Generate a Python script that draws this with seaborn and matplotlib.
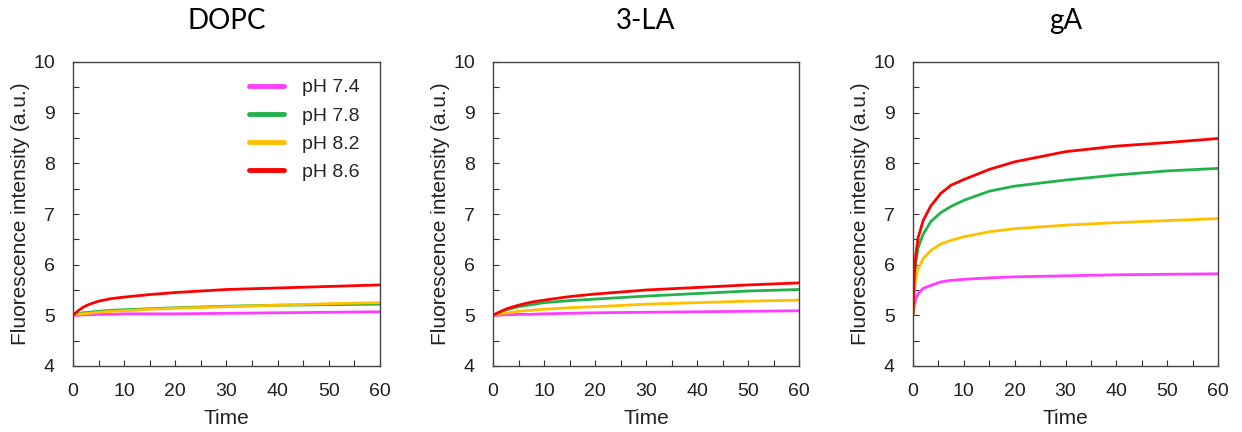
import matplotlib
matplotlib.use("Agg")
import matplotlib.pyplot as plt
import seaborn as sns
import pandas as pd
from matplotlib.ticker import MultipleLocator

sns.set_theme(style="white")
plt.rcParams['font.family'] = ['Liberation Sans', 'DejaVu Sans']

ph_labels = ["pH 7.4", "pH 7.8", "pH 8.2", "pH 8.6"]
colors = ["#FF3CFF", "#22B24C", "#FFC000", "#FF0000"]
panels = ["DOPC", "3-LA", "gA"]

# DOPC
t_dopc = [0, 1, 2, 3, 5, 7.5, 10, 15, 20, 30, 40, 50, 60]
dopc_74 = [5.00, 5.00, 5.01, 5.01, 5.02, 5.02, 5.03, 5.03, 5.03, 5.04, 5.05, 5.06, 5.07]
dopc_78 = [5.00, 5.03, 5.05, 5.06, 5.08, 5.10, 5.11, 5.13, 5.15, 5.18, 5.20, 5.21, 5.22]
dopc_82 = [5.00, 5.02, 5.03, 5.04, 5.06, 5.08, 5.09, 5.12, 5.14, 5.17, 5.20, 5.23, 5.25]
dopc_86 = [5.00, 5.09, 5.16, 5.21, 5.28, 5.33, 5.36, 5.41, 5.45, 5.51, 5.54, 5.57, 5.60]

# 3-LA
t_la = [0, 1, 2, 3, 5, 7.5, 10, 15, 20, 30, 40, 50, 60]
la_74 = [5.00, 5.00, 5.01, 5.01, 5.02, 5.02, 5.03, 5.04, 5.05, 5.06, 5.07, 5.08, 5.09]
la_78 = [5.00, 5.05, 5.09, 5.12, 5.17, 5.21, 5.25, 5.29, 5.32, 5.38, 5.43, 5.48, 5.51]
la_82 = [5.00, 5.02, 5.04, 5.05, 5.08, 5.10, 5.12, 5.15, 5.17, 5.22, 5.25, 5.28, 5.30]
la_86 = [5.00, 5.05, 5.10, 5.14, 5.20, 5.26, 5.30, 5.37, 5.42, 5.50, 5.55, 5.60, 5.64]

# gA
t_ga = [0, 0.25, 0.5, 1, 2, 3.5, 5.5, 7.5, 10, 15, 20, 30, 40, 50, 60]
ga_74 = [5.00, 5.18, 5.31, 5.43, 5.53, 5.59, 5.66, 5.69, 5.71, 5.74, 5.76, 5.78, 5.80, 5.81, 5.82]
ga_78 = [5.00, 5.70, 6.02, 6.33, 6.60, 6.85, 7.03, 7.15, 7.27, 7.45, 7.55, 7.67, 7.77, 7.85, 7.90]
ga_82 = [5.00, 5.48, 5.70, 5.92, 6.12, 6.28, 6.41, 6.48, 6.55, 6.65, 6.71, 6.78, 6.83, 6.87, 6.91]
ga_86 = [5.00, 5.75, 6.15, 6.53, 6.87, 7.16, 7.41, 7.57, 7.68, 7.88, 8.03, 8.23, 8.34, 8.41, 8.49]

series = {
    "DOPC": (t_dopc, [dopc_74, dopc_78, dopc_82, dopc_86]),
    "3-LA": (t_la, [la_74, la_78, la_82, la_86]),
    "gA": (t_ga, [ga_74, ga_78, ga_82, ga_86]),
}

rows = []
for p in panels:
    t, ys = series[p]
    for lab, y in zip(ph_labels, ys):
        for ti, yi in zip(t, y):
            rows.append({"panel": p, "pH": lab, "Time": ti, "F": yi})
df = pd.DataFrame(rows)

fig = plt.figure(figsize=(12.42, 4.32), dpi=100)
lefts = [73, 493, 913]
widths = [307, 306, 305]
for i, p in enumerate(panels):
    ax = fig.add_axes([lefts[i] / 1242, 66 / 432, widths[i] / 1242, 304 / 432])
    sub = df[df.panel == p]
    sns.lineplot(data=sub, x="Time", y="F", hue="pH", hue_order=ph_labels,
                 palette=colors, linewidth=2.0, ax=ax, legend=(i == 0),
                 estimator=None, sort=True)
    ax.set_xlim(0, 60)
    ax.set_ylim(4, 10)
    ax.xaxis.set_major_locator(MultipleLocator(10))
    ax.xaxis.set_minor_locator(MultipleLocator(5))
    ax.yaxis.set_major_locator(MultipleLocator(1))
    ax.yaxis.set_minor_locator(MultipleLocator(0.5))
    ax.tick_params(which="both", direction="in", length=4, width=0.8,
                   colors="#333333", labelcolor="#222222", labelsize=14,
                   left=True, bottom=True, top=False, right=False)
    ax.tick_params(axis="x", which="both", pad=12)
    ax.tick_params(axis="y", which="both", pad=13)
    for s in ax.spines.values():
        s.set_color("#444444")
        s.set_linewidth(1.0)
    ax.set_xlabel("Time", fontsize=15, color="#222222", labelpad=7)
    ax.set_ylabel("Fluorescence intensity (a.u.)", fontsize=15,
                  color="#222222", labelpad=2)
    ax.set_title(p, fontsize=20, family=["Lato", "DejaVu Sans"], pad=24,
                 color="black")
    if i == 0:
        leg = ax.legend(loc="upper left", frameon=False, fontsize=14,
                        handlelength=1.8, handletextpad=0.95,
                        labelspacing=0.55, borderpad=0, borderaxespad=0,
                        bbox_to_anchor=(0.573, 0.945))
        for h in leg.get_lines():
            h.set_linewidth(3.5)

fig.savefig("out.png", dpi=100)
